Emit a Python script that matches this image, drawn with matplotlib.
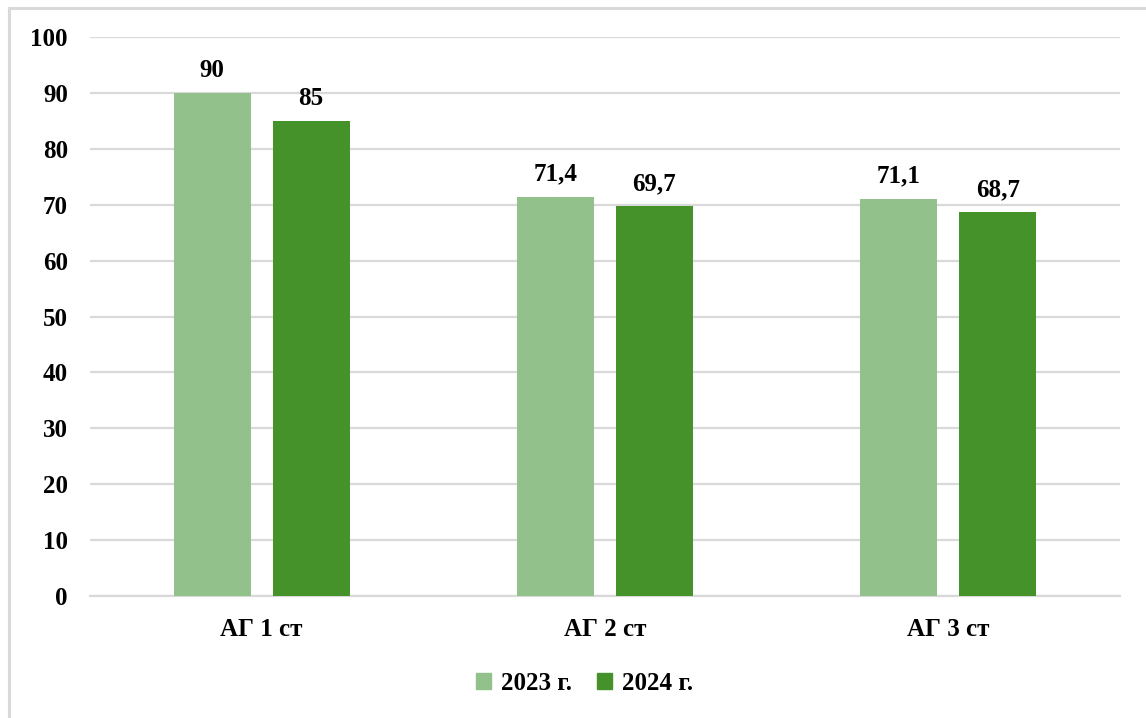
import matplotlib.pyplot as plt
import numpy as np
from matplotlib.patches import Rectangle, Patch

# values per stage of arterial hypertension
categories = ['АГ 1 ст', 'АГ 2 ст', 'АГ 3 ст']
years = ['2023 г.', '2024 г.']
values_2023 = [90, 71.4, 71.1]
values_2024 = [85, 69.7, 68.7]
colors = ['#93C18B', '#46922A']

plt.rcParams['font.family'] = ['Liberation Serif', 'DejaVu Serif']
plt.rcParams['font.weight'] = 'bold'


def fmt(v):
    s = f'{v:g}'
    return s.replace('.', ',')


def main():
    fig = plt.figure(figsize=(11.46, 7.18), dpi=100)
    ax = fig.add_axes([90 / 1146, 1 - 596 / 718, 1030 / 1146, (596 - 37) / 718])

    # chart frame
    fig.patches.append(Rectangle((9 / 1146, -0.05), 1.2, 1 - 8 / 718 + 0.05,
                                 transform=fig.transFigure, fill=False,
                                 edgecolor='#D9D9D9', linewidth=2.2))

    x = np.arange(len(categories))
    width = 0.224
    offset = 0.144

    for vals, dx, c in [(values_2023, -offset, colors[0]), (values_2024, offset, colors[1])]:
        bars = ax.bar(x + dx, vals, width, color=c, zorder=3)
        for b, v in zip(bars, vals):
            ax.annotate(fmt(v), xy=(b.get_x() + b.get_width() / 2, v),
                        xytext=(0, 8), textcoords='offset points',
                        ha='center', va='bottom', fontsize=18, fontweight='bold')

    ax.set_xlim(-0.5, 2.5)
    ax.set_ylim(0, 100)
    ax.set_yticks(range(0, 101, 10))
    ax.set_xticks(x)
    ax.set_xticklabels(categories)
    ax.tick_params(axis='both', length=0, labelsize=18)
    ax.tick_params(axis='y', pad=16)
    ax.tick_params(axis='x', pad=16)
    ax.yaxis.grid(True, color='#D9D9D9', linewidth=1.6, zorder=0)
    for side in ['top', 'right', 'left']:
        ax.spines[side].set_visible(False)
    ax.spines['bottom'].set_color('#D9D9D9')
    ax.spines['bottom'].set_linewidth(1.6)

    handles = [Patch(color=c) for c in colors]
    fig.legend(handles, years, loc='center', bbox_to_anchor=(585 / 1146, 1 - 683 / 718),
               ncol=2, frameon=False, fontsize=18, handlelength=0.6, handleheight=0.6,
               handletextpad=0.4, columnspacing=1.0)

    fig.savefig('out.png', dpi=100)


if __name__ == '__main__':
    main()
